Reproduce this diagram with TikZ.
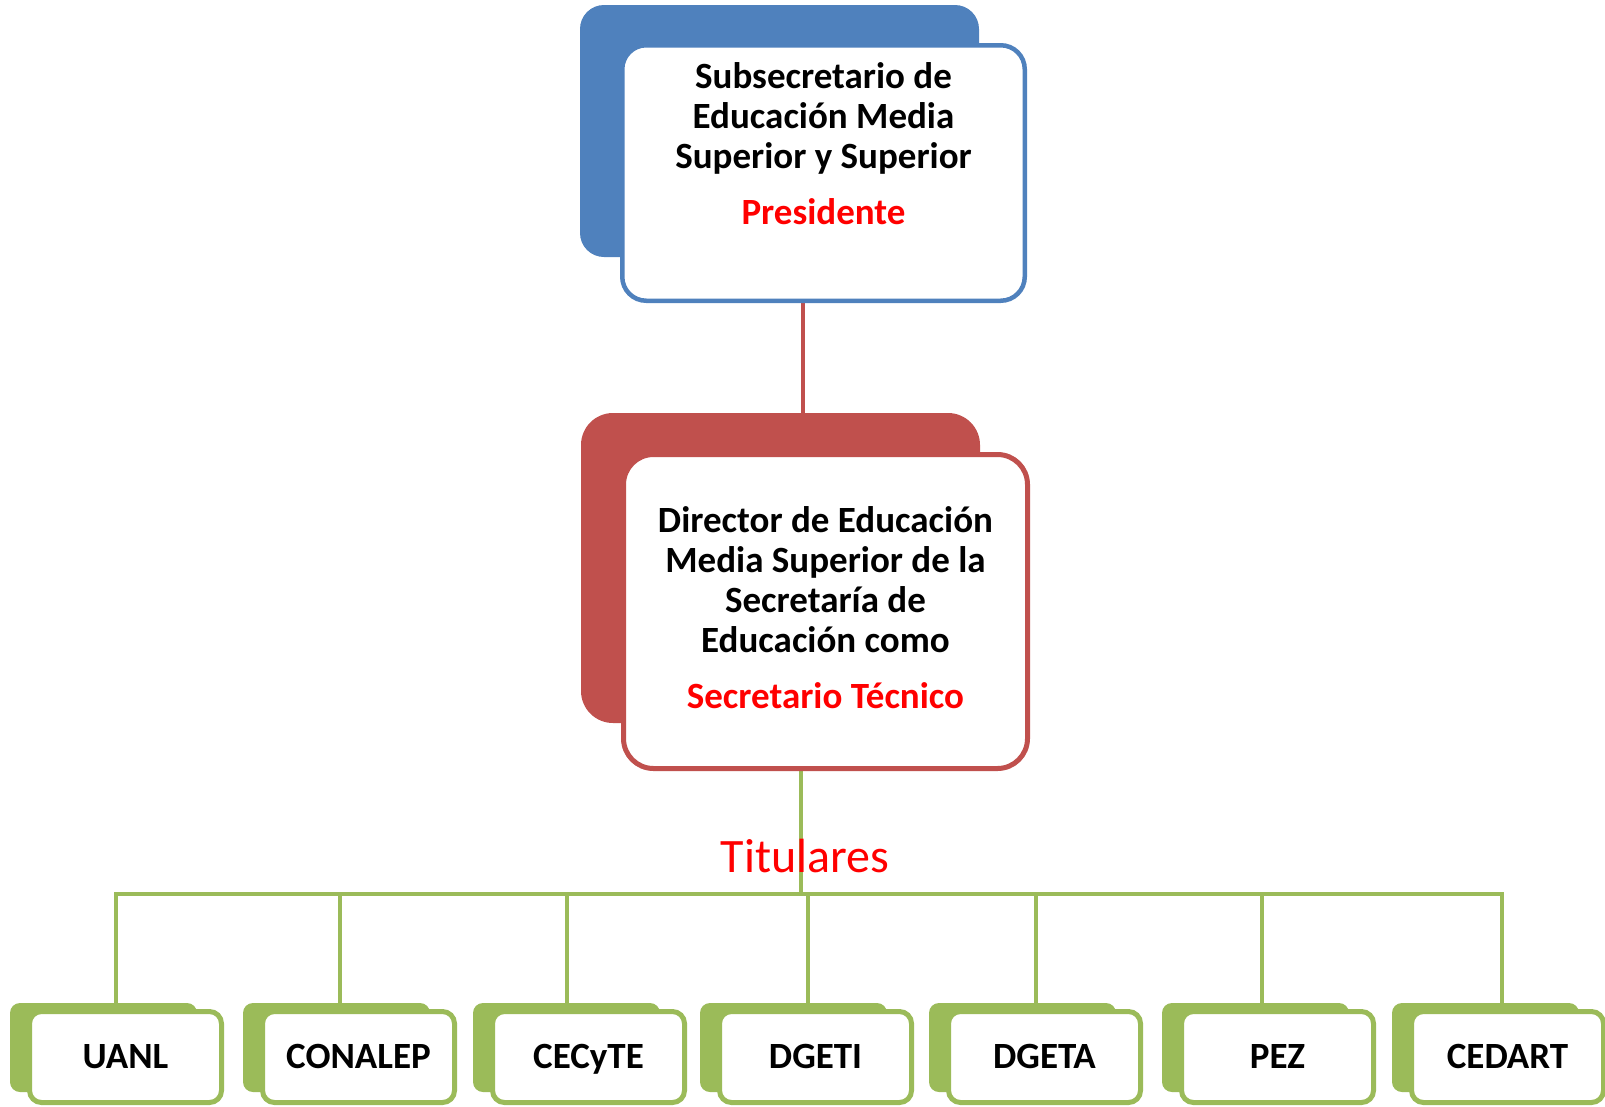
\documentclass[tikz,border=0pt]{standalone}
\usepackage{fontspec}
\setmainfont{Carlito}
\usetikzlibrary{backgrounds}
\definecolor{cblue}{HTML}{4F81BD}
\definecolor{cred}{HTML}{C0504D}
\definecolor{cgreen}{HTML}{9BBB59}
\definecolor{ctext}{HTML}{FF0000}
\begin{document}
\begin{tikzpicture}[x=1pt,y=-1pt,
  topback/.style={rectangle, inner sep=0, fill=cblue, rounded corners=24pt, minimum width=399pt, minimum height=252pt},
  topfront/.style={rectangle, inner sep=0, fill=white, draw=cblue, line width=4.5pt, rounded corners=24pt, minimum width=402.5pt, minimum height=255.5pt},
  redback/.style={rectangle, inner sep=0, fill=cred, rounded corners=32pt, minimum width=399pt, minimum height=310pt},
  redfront/.style={rectangle, inner sep=0, fill=white, draw=cred, line width=5pt, rounded corners=30pt, minimum width=404pt, minimum height=314pt},
  gback/.style={rectangle, inner sep=0, fill=cgreen, rounded corners=10pt, minimum width=187pt, minimum height=89pt},
  gfront/.style={rectangle, inner sep=0, fill=white, draw=cgreen, line width=5pt, rounded corners=12pt, minimum width=192pt, minimum height=91pt,
     font=\bfseries\fontsize{37}{40}\selectfont, text height=23pt, text depth=0pt},
  bigtxt/.style={inner sep=0, align=center, font=\bfseries\fontsize{37}{40}\selectfont},
  redline/.style={draw=cred, line width=4.5pt},
  gline/.style={draw=cgreen, line width=4.5pt, line join=miter}
]
\useasboundingbox (0,0) rectangle (1605,1106);

% top box
\node[topback] (presb) at (779.5,131) {};
\node[topfront] (pres) at (823.5,173) {};
\node[bigtxt, anchor=north] (prest) at (823.5,54) {\rule{0pt}{34pt}Subsecretario de\\Educación Media\\Superior y Superior\\[16pt]\textcolor{ctext}{Presidente}};

% middle box
\node[redback] (dirb) at (780.5,568) {};
\node[redfront] (dir) at (825.5,611.5) {};
\node[bigtxt, anchor=north] (dirt) at (825.5,498) {\rule{0pt}{34pt}Director de Educación\\Media Superior de la\\Secretaría de\\Educación como\\[16pt]\textcolor{ctext}{Secretario Técnico}};

% bottom boxes
\foreach \i/\fl/\lab in {1/27/UANL, 2/260/CONALEP, 3/490/CECyTE, 4/717/DGETI, 5/946/DGETA, 6/1179/PEZ, 7/1409/CEDART}{
  \node[gback] (bk\i) at (\fl+76.5,1047.5) {};
  \node[gfront] (fr\i) at (\fl+98.5,1057) {\lab};
}

% connector coordinates
\coordinate (rx) at (803,0);
\coordinate (tx) at (801,0);
\coordinate (x1) at (116,894);
\coordinate (x2) at (340,894);
\coordinate (x3) at (567,894);
\coordinate (x4) at (808,894);
\coordinate (x5) at (1036,894);
\coordinate (x6) at (1262,894);
\coordinate (x7) at (1502,894);

\begin{scope}[on background layer]
  \draw[redline] (pres.south -| rx) -- (dirb.north -| rx);
  \draw[gline] (dir.south -| tx) -- (tx |- x1);
  \draw[gline] (bk1.north -| x1) -- (x1) -- (x7) -- (bk7.north -| x7);
  \foreach \i in {2,...,6}{
    \draw[gline] (x\i) -- (bk\i.north -| x\i);
  }
\end{scope}

\node[inner sep=0, anchor=base, text=ctext, font=\fontsize{48}{58}\selectfont] (tit) at (805,872) {Titulares};
\end{tikzpicture}
\end{document}
